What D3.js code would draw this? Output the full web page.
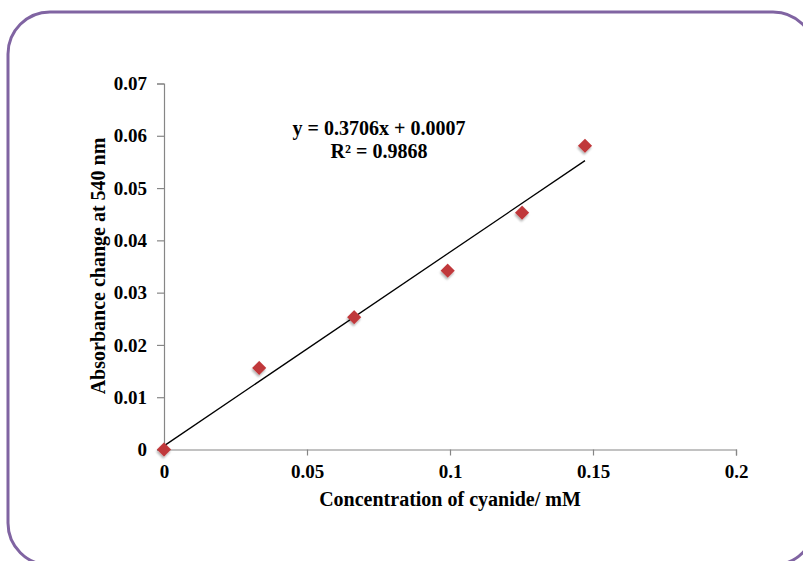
<!DOCTYPE html>
<html>
<head>
<meta charset="utf-8">
<script src="https://cdn.jsdelivr.net/npm/d3@7"></script>
<style>
  body { margin: 0; background: #fff; }
  text { font-family: "Liberation Serif", "Times New Roman", serif; font-weight: bold; fill: #000; }
</style>
</head>
<body>
<div id="chart"></div>
<script>
// data
const concentration = [0, 0.0333, 0.0665, 0.0992, 0.1252, 0.1472];
const absorbance = [0, 0.0156, 0.0253, 0.0342, 0.0453, 0.0581];
const xTicks = [0, 0.05, 0.1, 0.15, 0.2];
const yTicks = [0, 0.01, 0.02, 0.03, 0.04, 0.05, 0.06, 0.07];
const slope = 0.3706, intercept = 0.0007;
const equationLabel = "y = 0.3706x + 0.0007";
const r2Label = "R² = 0.9868";

const W = 803, H = 561;
const svg = d3.select("#chart").append("svg")
    .attr("width", W)
    .attr("height", H);

const defs = svg.append("defs");
const f = defs.append("filter").attr("id", "shadow")
    .attr("x", "-50%").attr("y", "-50%").attr("width", "200%").attr("height", "200%");
f.append("feDropShadow").attr("dx", 1).attr("dy", 2).attr("stdDeviation", 1.2)
    .attr("flood-color", "#000").attr("flood-opacity", 0.3);

// rounded frame
svg.append("rect")
    .attr("x", 8).attr("y", 12)
    .attr("width", 807).attr("height", 553)
    .attr("rx", 42).attr("ry", 42)
    .attr("fill", "none")
    .attr("stroke", "#8064a2")
    .attr("stroke-width", 3);

const x = d3.scaleLinear().domain([0, 0.2]).range([164, 736]);
const y = d3.scaleLinear().domain([0, 0.07]).range([449.5, 83.5]);

const xAxis = svg.append("g")
    .attr("transform", "translate(0," + y(0) + ")")
    .call(d3.axisBottom(x).tickValues(xTicks).tickSize(6).tickPadding(9)
      .tickFormat(d => d3.format("")(d)));
const yAxis = svg.append("g")
    .attr("transform", "translate(" + x(0) + ",0)")
    .call(d3.axisLeft(y).tickValues(yTicks).tickSize(7).tickPadding(10)
      .tickFormat(d => d3.format("")(+d.toFixed(2))));

[xAxis, yAxis].forEach(g => {
  g.select(".domain").attr("stroke", "#868686").attr("stroke-width", 1.2);
  g.selectAll(".tick line").attr("stroke", "#868686").attr("stroke-width", 1.2);
  g.selectAll(".tick text").style("font-size", "19px")
    .style("font-family", "'Liberation Serif', serif").style("font-weight", "bold").attr("fill", "#000");
});
xAxis.selectAll(".tick").filter(d => d === 0).select("line").remove();

// trendline
const xMax = d3.max(concentration);
svg.append("line")
    .attr("x1", x(0)).attr("y1", y(intercept))
    .attr("x2", x(xMax)).attr("y2", y(slope * xMax + intercept))
    .attr("stroke", "#000").attr("stroke-width", 1.3);

// markers
svg.selectAll(".pt")
  .data(concentration.map((c, i) => [c, absorbance[i]]))
  .enter().append("path")
    .attr("class", "pt")
    .attr("d", d3.symbol().type(d3.symbolSquare).size(100))
    .attr("transform", d => "translate(" + x(d[0]) + "," + y(d[1]) + ") rotate(45)")
    .attr("fill", "#c0393b")
    .attr("filter", "url(#shadow)");

// equation
svg.append("text").attr("x", 379).attr("y", 135)
    .attr("text-anchor", "middle").style("font-size", "20px").text(equationLabel);
svg.append("text").attr("x", 379).attr("y", 158)
    .attr("text-anchor", "middle").style("font-size", "20px").text(r2Label);

// axis titles
svg.append("text").attr("x", 450).attr("y", 506)
    .attr("text-anchor", "middle").style("font-size", "20px")
    .text("Concentration of cyanide/ mM");
svg.append("text")
    .attr("transform", "translate(105,266) rotate(-90)")
    .attr("text-anchor", "middle").style("font-size", "20px")
    .text("Absorbance change at 540 nm");
</script>
</body>
</html>
